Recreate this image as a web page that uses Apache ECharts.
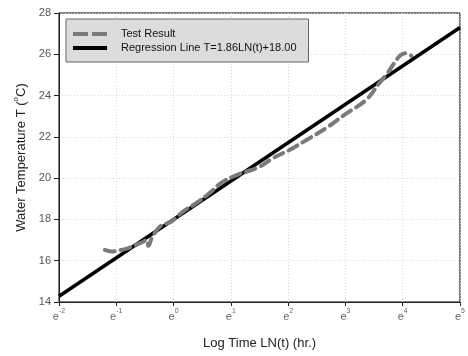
<!DOCTYPE html>
<html>
<head>
<meta charset="utf-8">
<script src="https://cdn.jsdelivr.net/npm/echarts@6/dist/echarts.min.js"></script>
<style>
  html, body { margin: 0; padding: 0; background: #fff; }
  #chart { width: 468px; height: 356px; }
</style>
</head>
<body>
<div id="chart"></div>
<script>
// Measured water temperature against natural-log time
const testLnT = [-1.2, -1.08, -0.95, -0.8, -0.68, -0.56, -0.47, -0.44, -0.38, -0.24, -0.04, 0.16, 0.4, 0.63, 0.83, 1.1, 1.27, 1.5, 1.73, 2.02, 2.32, 2.66, 3.0, 3.36, 3.59, 3.71, 3.85, 3.97, 4.08, 4.15];
const testTemp = [16.52, 16.45, 16.5, 16.6, 16.73, 16.88, 17.0, 16.72, 17.1, 17.65, 17.9, 18.37, 18.8, 19.28, 19.77, 20.15, 20.31, 20.55, 20.96, 21.36, 21.85, 22.42, 23.1, 23.79, 24.6, 25.0, 25.56, 25.97, 26.05, 25.92];

// Fitted regression T = a*LN(t) + b, drawn over the full axis span
const regSlope = 1.86;
const regIntercept = 18.0;
const regLnT = [-2, 5];

// Axis ticks
const xTicks = [-2, -1, 0, 1, 2, 3, 4, 5];
const yTicks = [14, 16, 18, 20, 22, 24, 26, 28];

const testData = testLnT.map((x, i) => [x, testTemp[i]]);
const regData = regLnT.map(x => [x, regSlope * x + regIntercept]);

const font = '"Liberation Sans", Arial, sans-serif';
const regName = 'Regression Line T=' + regSlope.toFixed(2) + 'LN(t)+' + regIntercept.toFixed(2);

// legend glyphs: two dashes for the test curve, one bar for the fit
const dashIcon = 'path://M0,0h15v4h-15z M19,0h15v4h-15z';
const solidIcon = 'path://M0,0h34v4h-34z';

const chart = echarts.init(document.getElementById('chart'));

chart.setOption({
  animation: false,
  backgroundColor: '#fff',
  textStyle: { fontFamily: font },
  grid: {
    left: 59, right: 7, top: 13, bottom: 54,
    show: true, borderColor: '#000', borderWidth: 1, backgroundColor: 'transparent'
  },
  legend: {
    left: 66, top: 19,
    orient: 'vertical',
    padding: [8, 12, 7, 7],
    itemGap: 0,
    itemWidth: 34, itemHeight: 4,
    backgroundColor: '#dcdcdc',
    borderColor: '#666', borderWidth: 1,
    textStyle: { fontFamily: font, fontSize: 11, color: '#111', lineHeight: 14, padding: [0, 0, 0, 9] },
    data: [
      { name: 'Test Result', icon: dashIcon },
      { name: regName, icon: solidIcon }
    ]
  },
  xAxis: {
    type: 'value',
    min: xTicks[0], max: xTicks[xTicks.length - 1], interval: 1,
    name: 'Log Time LN(t) (hr.)',
    nameLocation: 'middle', nameGap: 35,
    nameTextStyle: { fontFamily: font, fontSize: 13, color: '#222' },
    axisLine: { onZero: false, lineStyle: { color: '#222', width: 1 } },
    axisTick: { show: true, length: 4, lineStyle: { color: '#222' } },
    axisLabel: {
      margin: 6,
      formatter: v => '{b|e}{s|' + (v < 0 ? '-' : '') + Math.abs(v) + '}',
      rich: {
        b: { fontFamily: font, fontSize: 11, color: '#666', lineHeight: 14, verticalAlign: 'bottom' },
        s: { fontFamily: font, fontSize: 7, color: '#666', lineHeight: 14, verticalAlign: 'top' }
      }
    },
    splitLine: { show: true, lineStyle: { color: '#d8d8d8', type: [1, 2], width: 1 } }
  },
  yAxis: {
    type: 'value',
    min: yTicks[0], max: yTicks[yTicks.length - 1], interval: 2,
    name: '{n|Water Temperature T (}{s|o}{n|C)}',
    nameLocation: 'middle', nameGap: 31, nameRotate: 90,
    nameTextStyle: {
      rich: {
        n: { fontFamily: font, fontSize: 13, color: '#222', lineHeight: 16, verticalAlign: 'bottom' },
        s: { fontFamily: font, fontSize: 8, color: '#222', lineHeight: 16, verticalAlign: 'top' }
      }
    },
    axisLine: { show: true, onZero: false, lineStyle: { color: '#222', width: 1 } },
    axisTick: { show: true, length: 5, lineStyle: { color: '#222' } },
    axisLabel: { margin: 8, fontFamily: font, fontSize: 11, color: '#555' },
    splitLine: { show: true, lineStyle: { color: '#d8d8d8', type: [1, 2], width: 1 } }
  },
  series: [
    {
      name: regName,
      type: 'line',
      data: regData,
      symbol: 'none',
      itemStyle: { color: '#000' },
      lineStyle: { color: '#000', width: 3.5 },
      z: 3
    },
    {
      name: 'Test Result',
      type: 'line',
      data: testData,
      symbol: 'none',
      smooth: 0.4,
      itemStyle: { color: '#7a7a7a' },
      lineStyle: { color: '#7a7a7a', width: 4, type: [10, 6], cap: 'round' },
      z: 4
    }
  ]
});
</script>
</body>
</html>
